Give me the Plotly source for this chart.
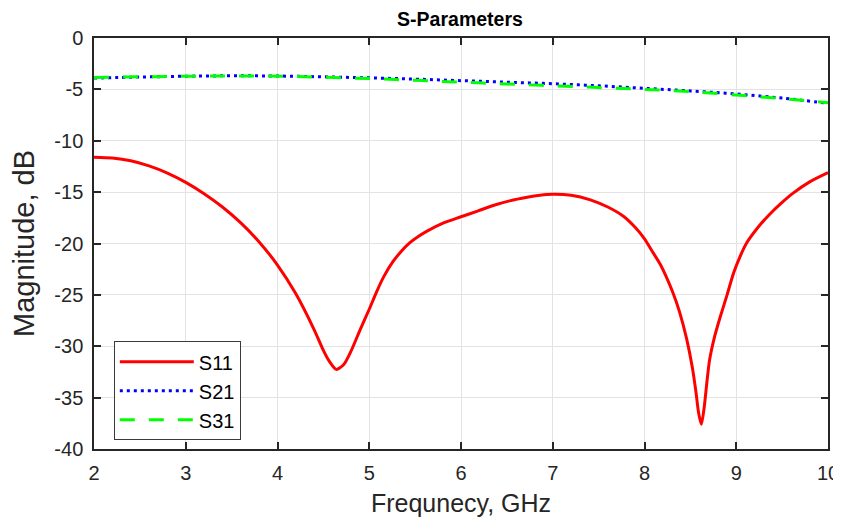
import plotly.graph_objects as go

# ---- data ----
freq_s11 = [2.0, 2.2, 2.4, 2.6, 2.8, 3.0, 3.2, 3.4, 3.6, 3.8, 4.0, 4.2, 4.4, 4.5, 4.56, 4.64, 4.72,
            4.8, 4.9, 5.0, 5.08, 5.16, 5.26, 5.35, 5.44, 5.53, 5.63, 5.81, 6.0, 6.18, 6.35, 6.53,
            6.72, 6.86, 7.0, 7.2, 7.41, 7.6, 7.77, 7.9, 8.0, 8.08, 8.17, 8.24, 8.31, 8.38, 8.46,
            8.52, 8.56, 8.59, 8.62, 8.65, 8.68, 8.71, 8.76, 8.82, 8.9, 8.97, 9.04, 9.11, 9.24,
            9.37, 9.5, 9.62, 9.8, 10.0]
s11 = [-11.6, -11.68, -11.95, -12.45, -13.15, -14.05, -15.15, -16.45, -18.0, -19.85, -22.1, -24.9,
       -28.4, -30.4, -31.4, -32.25, -31.8, -30.5, -28.4, -26.4, -24.7, -23.2, -21.75, -20.75,
       -19.95, -19.35, -18.8, -18.0, -17.4, -16.85, -16.3, -15.85, -15.5, -15.3, -15.2, -15.3,
       -15.75, -16.45, -17.35, -18.45, -19.55, -20.7, -22.0, -23.3, -24.8, -26.6, -29.3, -32.0,
       -34.4, -36.5, -37.6, -36.0, -33.5, -31.3, -29.2, -27.3, -25.0, -22.9, -21.3, -20.0, -18.4,
       -17.1, -16.0, -15.1, -14.0, -13.1]

freq_s = [2.0, 2.5, 3.0, 3.5, 4.0, 4.5, 5.0, 5.5, 6.0, 6.5, 7.0, 7.5, 8.0, 8.5, 9.0, 9.5, 10.0]
s21 = [-3.9, -3.8, -3.72, -3.68, -3.7, -3.78, -3.88, -4.0, -4.15, -4.3, -4.45, -4.65, -4.9,
       -5.15, -5.45, -5.85, -6.35]
s31 = [-3.85, -3.78, -3.72, -3.7, -3.72, -3.82, -3.95, -4.12, -4.3, -4.48, -4.65, -4.82, -5.0,
       -5.22, -5.55, -5.9, -6.3]

x_ticks = [2, 3, 4, 5, 6, 7, 8, 9, 10]
y_ticks = [0, -5, -10, -15, -20, -25, -30, -35, -40]

FONT = "Liberation Sans, Arial, sans-serif"
AX = "#262626"

fig = go.Figure()
fig.add_trace(go.Scatter(x=freq_s11, y=s11, mode="lines", name="S11",
                         line=dict(color="#ff0000", width=3, shape="spline", smoothing=0.7)))
fig.add_trace(go.Scatter(x=freq_s, y=s21, mode="lines", name="S21",
                         line=dict(color="#0000ff", width=3, dash="3px,4px", shape="spline")))
fig.add_trace(go.Scatter(x=freq_s, y=s31, mode="lines", name="S31",
                         line=dict(color="#00ff00", width=3, dash="15px,14px", shape="spline")))

axis_common = dict(showline=True, linecolor=AX, linewidth=1.5, mirror="allticks",
                   ticks="inside", ticklen=7, tickwidth=1.5, tickcolor=AX, automargin=False,
                   showgrid=True, gridcolor="#e3e3e3", gridwidth=1, zeroline=False,
                   tickfont=dict(family=FONT, size=20, color=AX))

fig.update_xaxes(range=[2, 10], tickvals=x_ticks, ticktext=[str(v) for v in x_ticks],
                 ticklabelstandoff=5,
                 title=dict(text="Frequnecy, GHz", font=dict(family=FONT, size=25, color=AX),
                            standoff=12), **axis_common)
fig.update_yaxes(range=[-40, 0], tickvals=y_ticks, ticktext=[str(v) for v in y_ticks],
                 ticklabelstandoff=5,
                 title=dict(text="Magnitude, dB", font=dict(family=FONT, size=29, color=AX),
                            standoff=14), **axis_common)

# page body has an 8px default margin, so the figure is sized/offset to compensate
fig.update_layout(
    width=833, height=512,
    margin=dict(l=86, r=13, t=30, b=71),
    paper_bgcolor="white", plot_bgcolor="white",
    title=dict(text="<b>S-Parameters</b>", x=0.5426, xanchor="center", y=0.978, yanchor="middle",
               font=dict(family=FONT, size=19.5, color="#000000")),
    legend=dict(x=0.027, y=0.262, xanchor="left", yanchor="top",
                bgcolor="white", bordercolor="#3a3a3a", borderwidth=1,
                font=dict(family=FONT, size=20, color="#000000"),
                tracegroupgap=0, itemwidth=74),
    showlegend=True,
)

fig.write_html("out.html")
